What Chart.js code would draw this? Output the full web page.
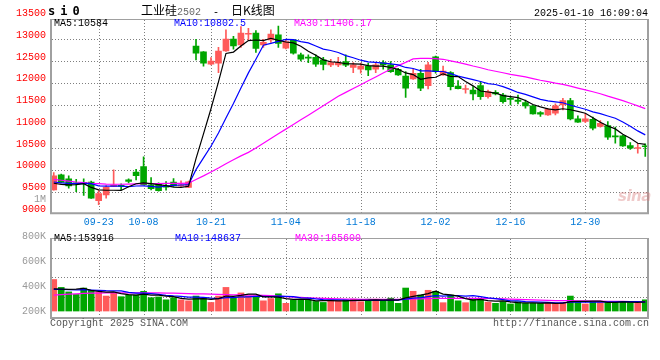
<!DOCTYPE html>
<html><head><meta charset="utf-8">
<script src="https://cdn.jsdelivr.net/npm/chart.js@4/dist/chart.umd.min.js"></script>
<style>
html,body{margin:0;padding:0;background:#fff;width:660px;height:360px;overflow:hidden;}
#wrap{position:relative;width:660px;height:360px;}
canvas{position:absolute;left:0;}
.t{position:absolute;white-space:nowrap;font-family:"Liberation Mono","DejaVu Sans Mono",monospace;font-size:10px;line-height:10px;}
</style></head><body>
<div id="wrap">
<canvas id="vc" width="660" height="100" style="top:228px;width:660px;height:100px"></canvas>
<canvas id="kc" width="660" height="232" style="top:0;width:660px;height:232px"></canvas>
<div class="t" style="left:48px;top:5px;font-family:'DejaVu Sans Mono';font-weight:bold;font-size:12px;line-height:12px;letter-spacing:5px;">si0</div>
<div class="t" style="left:141px;top:3px;font-size:12px;line-height:14px;"><span style="font-family:'Noto Sans CJK SC';font-size:12px;">工业硅</span><span style="color:#666;font-size:10px;">2502</span><span style="white-space:pre;font-size:10px;">  -  </span><span style="font-family:'Noto Sans CJK SC';font-size:12px;">日K线图</span></div>
<div class="t" style="right:12px;top:9px;color:#000;">2025-01-10 16:09:04</div>
<div class="t" style="left:54px;top:19px;color:#000;">MA5:10584</div>
<div class="t" style="left:174px;top:19px;color:#0000ff;">MA10:10802.5</div>
<div class="t" style="left:294px;top:19px;color:#ff00ff;">MA30:11406.17</div>
<div class="t" style="right:614px;top:195px;color:#999;">1M</div>
<div class="t" style="left:618px;top:189px;font-family:'DejaVu Sans';font-style:italic;font-weight:bold;font-size:15px;line-height:15px;color:rgba(215,120,120,0.4);letter-spacing:-0.5px;">sina</div>
<div class="t" style="left:54px;top:234px;color:#000;">MA5:153916</div>
<div class="t" style="left:175px;top:234px;color:#0000ff;">MA10:148637</div>
<div class="t" style="left:295px;top:234px;color:#ff00ff;">MA30:165600</div>
<div class="t" style="left:50px;top:319px;color:#555;">Copyright 2025 SINA.COM</div>
<div class="t" style="right:11px;top:319px;color:#555;">http://finance.sina.com.cn</div>
</div>
<script>
const dates = ['09-11','09-12','09-13','09-18','09-19','09-20','09-23','09-24','09-25','09-26','09-27','09-30','10-08','10-09','10-10','10-11','10-14','10-15','10-16','10-17','10-18','10-21','10-22','10-23','10-24','10-25','10-28','10-29','10-30','10-31','11-01','11-04','11-05','11-06','11-07','11-08','11-11','11-12','11-13','11-14','11-15','11-18','11-19','11-20','11-21','11-22','11-25','11-26','11-27','11-28','11-29','12-02','12-03','12-04','12-05','12-06','12-09','12-10','12-11','12-12','12-13','12-16','12-17','12-18','12-19','12-20','12-23','12-24','12-25','12-26','12-27','12-30','12-31','01-02','01-03','01-06','01-07','01-08','01-09','01-10'];
const tickDates = ['09-23','10-08','10-21','11-04','11-18','12-02','12-16','12-30'];
const open = [9540,9885,9790,9700,9710,9720,9290,9425,9615,9640,9770,9945,10075,9655,9680,9620,9720,9630,9595,12845,12710,12430,12450,12735,13005,12870,13115,13140,12870,12985,13100,12795,12985,12640,12585,12585,12525,12410,12410,12485,12355,12310,12385,12310,12465,12410,12310,12155,12090,12220,11935,12595,12180,12235,11925,11845,11835,11935,11680,11780,11720,11645,11605,11545,11470,11315,11260,11300,11490,11590,11170,11110,11160,10995,11015,10770,10780,10555,10490,10540];
const high = [9935,9900,9860,9780,9790,9740,9520,9640,10000,9680,9790,10010,10300,9820,9700,9730,9800,9745,9740,13000,12720,12580,12815,13215,13065,13290,13250,13200,13000,13215,13305,13000,12995,12680,12640,12640,12585,12540,12585,12640,12465,12450,12450,12465,12510,12485,12335,12255,12310,12310,12470,12615,12385,12260,12050,11950,11910,12030,11835,11820,11760,11685,11720,11605,11480,11340,11415,11515,11645,11645,11240,11300,11210,11130,11110,10980,10790,10625,10610,10595];
const low = [9530,9700,9580,9500,9410,9340,9200,9350,9610,9540,9700,9770,9650,9540,9510,9530,9620,9615,9590,12525,12380,12410,12235,12720,12770,12815,12985,12700,12815,12930,12815,12780,12660,12500,12465,12375,12295,12370,12370,12370,12235,12220,12165,12235,12310,12240,12170,11665,12080,11820,11860,12220,12170,11835,11860,11760,11605,11620,11645,11720,11530,11490,11515,11415,11280,11225,11250,11260,11375,11145,11090,11085,10915,10980,10700,10610,10535,10470,10380,10305];
const close = [9860,9710,9630,9680,9690,9345,9455,9595,9650,9620,9730,9865,9660,9565,9520,9600,9630,9650,9725,12680,12450,12500,12730,13005,12845,13140,13135,12790,12930,13120,12905,12945,12680,12540,12565,12430,12420,12465,12465,12405,12415,12385,12295,12410,12410,12255,12180,11875,12220,11875,12410,12255,12270,11910,11865,11855,11745,11680,11795,11745,11565,11620,11570,11470,11285,11280,11390,11470,11590,11170,11095,11170,10955,11070,10750,10755,10550,10495,10500,10530];
const ma5 = [9690,9665,9655,9660,9680,9595,9540,9530,9530,9525,9610,9680,9700,9680,9660,9635,9600,9595,9620,10257,10827,11403,12019,12675,12706,12844,12971,12983,12968,13023,12976,12938,12916,12838,12727,12632,12527,12484,12469,12437,12434,12427,12393,12382,12383,12351,12310,12226,12188,12081,12112,12127,12206,12144,12142,12031,11929,11811,11788,11764,11706,11681,11659,11594,11502,11445,11399,11379,11403,11380,11343,11299,11196,11092,11008,10940,10816,10724,10610,10584];
const ma10 = [9720,9700,9690,9680,9690,9680,9630,9625,9625,9624,9611,9627,9630,9618,9601,9627,9644,9650,9657,10003,10275,10540,10847,11191,11524,11878,12228,12542,12863,12907,12952,12997,12992,12945,12917,12846,12775,12742,12696,12624,12575,12519,12481,12468,12452,12435,12411,12352,12328,12275,12274,12261,12259,12209,12154,12114,12071,12030,11980,11960,11911,11848,11778,11734,11676,11619,11583,11562,11541,11484,11437,11392,11330,11290,11237,11184,11100,11003,10894,10803];
const ma30 = [9780,9760,9740,9720,9705,9690,9680,9672,9668,9668,9672,9678,9682,9685,9685,9686,9688,9690,9692,9775,9860,9950,10040,10140,10230,10320,10400,10500,10610,10720,10830,10935,11040,11150,11255,11365,11470,11580,11690,11780,11870,11955,12045,12135,12225,12310,12395,12470,12550,12560,12560,12555,12540,12505,12470,12430,12385,12345,12300,12265,12230,12195,12165,12135,12097,12059,12025,11992,11963,11922,11878,11838,11793,11748,11693,11643,11589,11530,11468,11406];
const vol = [469,406,370,350,401,383,370,337,362,332,345,345,375,324,330,307,324,307,299,337,320,286,337,406,320,362,337,337,299,317,355,279,307,307,307,294,286,307,299,307,312,292,312,312,299,320,279,401,375,345,383,375,284,345,299,284,312,317,289,279,292,274,292,279,279,279,279,279,286,337,292,274,292,286,292,286,292,286,279,307];
const vma5 = [395,392,390,392,399,382,375,368,371,357,349,344,352,344,344,336,332,318,313,315,317,310,316,337,334,342,352,352,331,330,329,317,311,313,311,299,300,300,299,299,302,303,304,307,305,307,304,322,335,344,357,376,352,346,337,317,305,311,300,296,298,290,285,283,283,281,282,279,280,292,295,294,296,296,287,286,290,288,287,290];
const vma10 = [390,390,388,386,388,385,383,380,379,378,366,360,360,357,350,343,338,335,329,329,327,321,317,325,324,330,331,334,334,332,336,335,332,322,321,314,309,306,306,305,301,302,302,303,302,305,304,313,321,325,332,340,337,341,341,337,340,332,323,317,308,298,298,292,290,289,286,282,282,288,288,288,288,288,290,290,292,292,292,289];
const vma30 = [345,348,352,355,358,360,361,362,362,362,362,362,362,362,362,361,360,358,356,355,354,352,350,349,347,346,345,344,342,340,337,333,329,326,323,320,318,316,314,313,312,311,311,311,311,311,311,313,314,315,316,318,318,319,319,319,319,319,318,317,315,313,311,309,307,305,303,301,300,300,299,298,297,296,295,295,294,293,293,292];
const priceTicks = [9000,9500,10000,10500,11000,11500,12000,12500,13000,13500];
const volTicks = [200,400,600,800];
const volGridTicks = [1,2,3];

const UP = '#ff5a5a', DOWN = '#00a600', FRAME = '#a0a0a0', DOT = '#7f7f7f';
const colors = close.map((c,i) => c >= open[i] ? UP : DOWN);
const shown = new Set(tickDates);
const FONT = {family: "'Liberation Mono','DejaVu Sans Mono',monospace", size: 10};

// dotted grid drawn at the positions given by the chart's own scales
function gridPlugin(yAxisId, yValues) {
  return {
    id: 'dotgrid',
    beforeDatasetsDraw(chart) {
      const a = chart.chartArea, c = chart.ctx;
      const xs = chart.scales.x, ys = chart.scales[yAxisId];
      c.save();
      c.fillStyle = DOT;
      dates.forEach((d, i) => {
        if (!shown.has(d)) return;
        const x = Math.round(xs.getPixelForValue(i));
        for (let y = Math.ceil(a.top) + 1; y < a.bottom; y += 3) c.fillRect(x, y, 1, 1);
      });
      yValues.forEach(v => {
        const y = Math.round(ys.getPixelForValue(v));
        if (y <= a.top + 1 || y >= a.bottom - 1) return;
        for (let x = Math.ceil(a.left) + 2; x < a.right; x += 3) c.fillRect(x, y, 1, 1);
      });
      c.restore();
    },
    afterDraw(chart) {
      const a = chart.chartArea, c = chart.ctx;
      c.save();
      c.strokeStyle = FRAME;
      c.lineWidth = 1;
      c.beginPath(); c.moveTo(a.left, a.top + 0.5); c.lineTo(a.right, a.top + 0.5); c.stroke();
      c.lineWidth = 2;
      c.beginPath();
      c.moveTo(a.left + 1, a.top); c.lineTo(a.left + 1, a.bottom);
      c.moveTo(a.left, a.bottom); c.lineTo(a.right, a.bottom);
      c.moveTo(a.right - 1, a.top); c.lineTo(a.right - 1, a.bottom + 1);
      c.stroke();
      c.restore();
    }
  };
}

function xScale(showLabels, h) {
  return {
    type: 'category', offset: true,
    grid: { display: false, drawTicks: false },
    border: { display: false },
    ticks: { display: showLabels, autoSkip: false, maxRotation: 0, minRotation: 0, padding: 3,
      color: '#0078d7', font: FONT,
      callback: (v, i) => shown.has(dates[i]) ? dates[i] : '' },
    afterFit: s => { s.height = h; }
  };
}

new Chart(document.getElementById('kc'), {
  type: 'bar',
  data: {
    labels: dates,
    datasets: [
      { type: 'line', data: ma5, borderColor: '#000000', borderWidth: 1.2, pointRadius: 0, order: 1 },
      { type: 'line', data: ma10, borderColor: '#0000ff', borderWidth: 1.2, pointRadius: 0, order: 1 },
      { type: 'line', data: ma30, borderColor: '#ff00ff', borderWidth: 1.2, pointRadius: 0, order: 1 },
      { data: open.map((o,i) => [o, close[i]]), backgroundColor: colors, barThickness: 6, minBarLength: 1, grouped: false, order: 5 },
      { data: low.map((l,i) => [l, high[i]]), backgroundColor: colors, barThickness: 1, minBarLength: 1, grouped: false, order: 6 }
    ]
  },
  options: {
    responsive: false, animation: false, devicePixelRatio: 1, events: [],
    layout: { padding: { top: 19, right: 11, left: 0, bottom: 0 } },
    plugins: { legend: { display: false }, tooltip: { enabled: false } },
    scales: {
      x: xScale(true, 18.7),
      y: {
        min: 9000, max: 13466,
        afterBuildTicks: s => { s.ticks = priceTicks.map(v => ({ value: v })); },
        afterFit: s => { s.width = 50; },
        grid: { display: false, drawTicks: false },
        border: { display: false },
        ticks: { color: '#ff0000', font: FONT, padding: 4, labelOffset: -4, autoSkip: false,
          callback: v => String(v) }
      }
    }
  },
  plugins: [gridPlugin('y', priceTicks)]
});

new Chart(document.getElementById('vc'), {
  type: 'bar',
  data: {
    labels: dates,
    datasets: [
      { type: 'line', data: vma5, borderColor: '#000000', borderWidth: 1.2, pointRadius: 0, order: 1 },
      { type: 'line', data: vma10, borderColor: '#0000ff', borderWidth: 1.2, pointRadius: 0, order: 1 },
      { type: 'line', data: vma30, borderColor: '#ff00ff', borderWidth: 1.2, pointRadius: 0, order: 1 },
      { data: vol, base: 217.6, backgroundColor: colors, barThickness: 6, grouped: false, order: 5 }
    ]
  },
  options: {
    responsive: false, animation: false, devicePixelRatio: 1, events: [],
    layout: { padding: { top: 6.3, right: 11, left: 0, bottom: 0 } },
    plugins: { legend: { display: false }, tooltip: { enabled: false } },
    scales: {
      x: xScale(false, 10),
      y: {
        min: 162, max: 800,
        afterBuildTicks: s => { s.ticks = volTicks.map(v => ({ value: v })); },
        afterFit: s => { s.width = 50; },
        grid: { display: false, drawTicks: false },
        border: { display: false },
        ticks: { color: '#999999', font: FONT, padding: 4, labelOffset: -2, autoSkip: false, callback: v => v + 'K' }
      },
      g: {
        position: 'right', min: -0.1, max: 4,
        afterBuildTicks: s => { s.ticks = volGridTicks.map(v => ({ value: v })); },
        afterFit: s => { s.width = 0; },
        grid: { display: false, drawTicks: false },
        border: { display: false },
        ticks: { display: false }
      }
    }
  },
  plugins: [gridPlugin('g', volGridTicks)]
});
</script>
</body></html>
